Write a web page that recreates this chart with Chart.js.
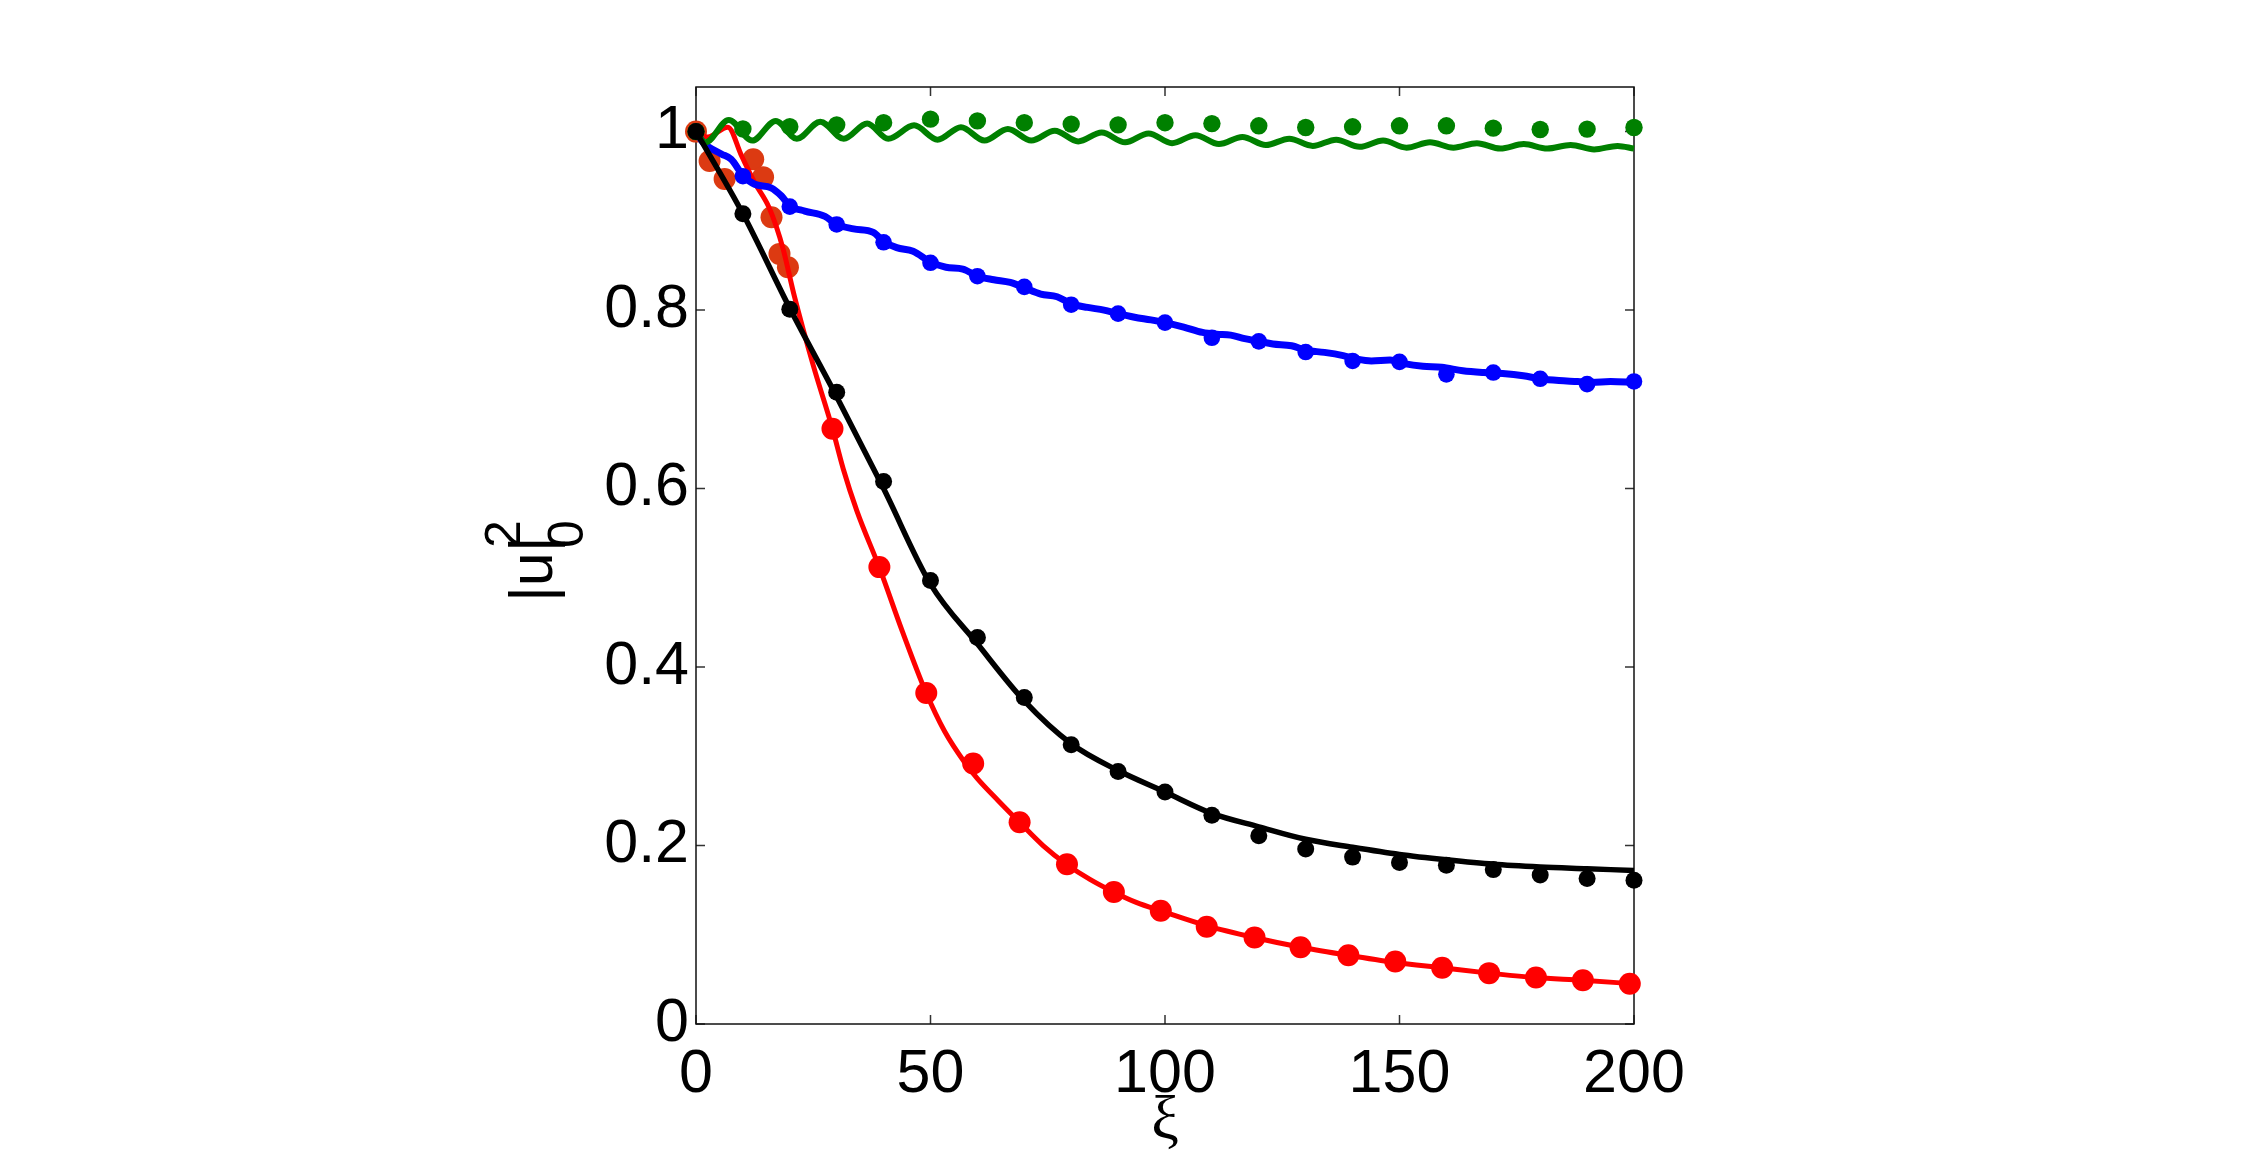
<!DOCTYPE html>
<html>
<head>
<meta charset="utf-8">
<script src="https://cdn.jsdelivr.net/npm/chart.js@4.4.1/dist/chart.umd.min.js"></script>
<style>
  html, body { margin: 0; padding: 0; background: #fff; }
  #wrap { width: 2250px; height: 1161px; position: relative; }
</style>
</head>
<body>
<div id="wrap"><canvas id="chart"></canvas></div>
<script>
// sample points of the dotted series (xi = 0..200, every 10)
const markX = [0, 10, 20, 30, 40, 50, 60, 70, 80, 90, 100, 110, 120, 130, 140, 150, 160, 170, 180, 190, 200];
const blackDots = [1, 0.908, 0.801, 0.708, 0.608, 0.497, 0.433, 0.366, 0.313, 0.283, 0.260, 0.234, 0.211, 0.196, 0.187, 0.181, 0.178, 0.173, 0.167, 0.163, 0.161];
const blueDots = [1, 0.950, 0.916, 0.896, 0.876, 0.853, 0.838, 0.826, 0.806, 0.796, 0.786, 0.769, 0.765, 0.753, 0.743, 0.742, 0.728, 0.730, 0.723, 0.717, 0.720];
const greenDots = [1, 1.003, 1.0055, 1.0076, 1.010, 1.014, 1.012, 1.010, 1.0084, 1.0076, 1.010, 1.009, 1.0065, 1.0046, 1.0054, 1.0065, 1.0065, 1.0039, 1.0024, 1.0028, 1.0046];

// red dots (offset a little from the others) and the early orange-red cluster
const redDotX = [29.1, 39.1, 49.1, 59.1, 69, 79.1, 89.1, 99.1, 108.9, 119.1, 128.9, 139.1, 149.1, 159.1, 169.1, 179.1, 189.1, 199.1];
const redDotY = [0.667, 0.512, 0.371, 0.292, 0.226, 0.179, 0.148, 0.127, 0.109, 0.097, 0.086, 0.077, 0.070, 0.063, 0.057, 0.052, 0.049, 0.045];
const clusterX = [0, 2.9, 6.1, 12.2, 14.3, 16.1, 17.8, 19.6];
const clusterY = [1, 0.967, 0.947, 0.969, 0.949, 0.904, 0.863, 0.848];

// solid curves
const blackLineX = [0, 10, 20, 30, 40, 50, 60, 70, 80, 90, 100, 110, 120, 130, 140, 150, 160, 170, 180, 190, 200];
const blackLineY = [1, 0.908, 0.802, 0.703, 0.600, 0.493, 0.426, 0.362, 0.314, 0.284, 0.260, 0.236, 0.221, 0.207, 0.198, 0.190, 0.184, 0.179, 0.176, 0.174, 0.172];

const redLineX = [0, 2.5, 6.8, 9.7, 12.5, 15.4, 17.1, 18.6, 21, 25, 29.1, 31.4, 34.3, 39.2, 44, 49, 53, 57.3, 60, 64.5, 69, 74, 79, 84, 89, 94, 99, 109, 119, 129, 139, 149, 159, 169, 179, 189, 200];
const redLineY = [1, 0.994, 1.005, 0.973, 0.943, 0.917, 0.894, 0.868, 0.815, 0.738, 0.667, 0.622, 0.575, 0.510, 0.440, 0.372, 0.328, 0.293, 0.275, 0.250, 0.226, 0.200, 0.179, 0.162, 0.148, 0.136, 0.127, 0.110, 0.097, 0.086, 0.077, 0.069, 0.063, 0.057, 0.052, 0.049, 0.045];

const blueLineX = [0, 1.5, 5.4, 7.5, 10, 12.5, 16, 18.2, 20, 23.2, 27.5, 30, 33.6, 37.8, 40, 42.8, 46.3, 50, 53.3, 56.9, 60, 63.5, 67, 70, 73.5, 77, 80, 83.5, 87, 90, 93.5, 97, 100, 104, 108, 111, 114, 117, 120, 123, 127, 130, 134, 138, 141, 144, 148, 151, 155, 159, 163.5, 168, 172, 176.4, 180, 184, 188, 191, 195, 200];
const blueLineY = [1, 0.988, 0.975, 0.969, 0.951, 0.941, 0.937, 0.928, 0.917, 0.911, 0.905, 0.896, 0.891, 0.887, 0.877, 0.870, 0.866, 0.854, 0.848, 0.846, 0.838, 0.834, 0.831, 0.825, 0.818, 0.815, 0.807, 0.803, 0.800, 0.796, 0.792, 0.789, 0.786, 0.781, 0.775, 0.773, 0.772, 0.768, 0.765, 0.762, 0.760, 0.755, 0.7526, 0.749, 0.745, 0.743, 0.744, 0.740, 0.737, 0.736, 0.732, 0.730, 0.729, 0.7265, 0.723, 0.721, 0.720, 0.719, 0.720, 0.719];

const greenLineX = [0, 2, 7, 12, 17, 21.5, 26.5, 31.5, 36.5, 41, 46.5, 51.5, 56.5, 61.5, 66.5, 71.5, 76.5, 81.5, 86.5, 91.5, 96.5, 101.5, 106.5, 111.5, 116.5, 121.5, 126.5, 131.5, 136.5, 141.5, 146.5, 151.5, 156.5, 161.5, 166.5, 171.5, 176.5, 181.5, 186.5, 191.5, 196.5, 200];
const greenLineY = [1, 0.988, 1.013, 0.990, 1.012, 0.992, 1.011, 0.992, 1.009, 0.992, 1.007, 0.991, 1.005, 0.990, 1.003, 0.990, 1.001, 0.989, 0.999, 0.988, 0.998, 0.987, 0.996, 0.986, 0.994, 0.985, 0.992, 0.984, 0.991, 0.983, 0.990, 0.982, 0.988, 0.982, 0.987, 0.981, 0.986, 0.981, 0.985, 0.980, 0.984, 0.981];

const xTicks = [0, 50, 100, 150, 200];
const yTicks = [0, 0.2, 0.4, 0.6, 0.8, 1];
const yTickLabels = ['0', '0.2', '0.4', '0.6', '0.8', '1'];

function pts(xs, ys) {
    return xs.map((x, i) => ({ x: x, y: ys[i] }));
}

function dots(xs, ys, color, r) {
    return {
        data: pts(xs, ys), showLine: false, pointRadius: r, pointHoverRadius: r,
        pointBackgroundColor: color, pointBorderWidth: 0, clip: false
    };
}

function curve(xs, ys, color, w) {
    return {
        data: pts(xs, ys), showLine: true, pointRadius: 0, borderColor: color,
        borderWidth: w, cubicInterpolationMode: 'monotone', clip: false
    };
}

const tickFont = { family: 'Liberation Sans', size: 61 };

// box, inward ticks and axis titles
const framePlugin = {
    id: 'frame',
    beforeDatasetsDraw(chart) {
        const { ctx, chartArea: a, scales } = chart;
        ctx.save();
        ctx.strokeStyle = '#333';
        ctx.lineWidth = 1.5;
        ctx.beginPath();
        xTicks.forEach(v => {
            const px = scales.x.getPixelForValue(v);
            ctx.moveTo(px, a.bottom); ctx.lineTo(px, a.bottom - 9);
            ctx.moveTo(px, a.top); ctx.lineTo(px, a.top + 9);
        });
        yTicks.forEach(v => {
            const py = scales.y.getPixelForValue(v);
            ctx.moveTo(a.left, py); ctx.lineTo(a.left + 9, py);
            ctx.moveTo(a.right, py); ctx.lineTo(a.right - 9, py);
        });
        ctx.stroke();
        ctx.strokeStyle = '#111';
        ctx.strokeRect(a.left, a.top, a.right - a.left, a.bottom - a.top);
        ctx.restore();
    },
    afterDraw(chart) {
        const { ctx, chartArea: a } = chart;
        ctx.save();
        ctx.fillStyle = '#000';
        // x title
        ctx.font = '62px "Liberation Serif"';
        ctx.textAlign = 'center';
        ctx.textBaseline = 'alphabetic';
        ctx.fillText('ξ', (a.left + a.right) / 2, 1138);
        // y title |u|_0^2, rotated
        ctx.translate(552, 602);
        ctx.rotate(-Math.PI / 2);
        ctx.textAlign = 'left';
        ctx.font = '61px "Liberation Sans"';
        ctx.fillText('|u|', 0, 0);
        ctx.font = '50px "Liberation Sans"';
        ctx.fillText('2', 54, -32);
        ctx.fillText('0', 54, 31);
        ctx.restore();
    }
};

new Chart(document.getElementById('chart'), {
    type: 'scatter',
    data: {
        datasets: [
            dots(markX, blackDots, '#000000', 8.5),
            curve(blackLineX, blackLineY, '#000000', 5.5),
            dots(markX, greenDots, '#008000', 8.7),
            curve(greenLineX, greenLineY, '#008000', 6),
            dots(markX, blueDots, '#0000ff', 8.3),
            curve(blueLineX, blueLineY, '#0000ff', 7),
            dots(redDotX, redDotY, '#ff0000', 11),
            curve(redLineX, redLineY, '#ff0000', 5),
            dots(clusterX, clusterY, '#dc3a12', 11)
        ]
    },
    options: {
        responsive: true,
        maintainAspectRatio: false,
        animation: false,
        devicePixelRatio: 1,
        layout: { padding: { left: 536, right: 616, top: 87, bottom: 27 } },
        plugins: { legend: { display: false }, tooltip: { enabled: false } },
        scales: {
            x: {
                type: 'linear', min: 0, max: 200,
                afterFit: s => { s.height = 110; },
                afterBuildTicks: s => { s.ticks = xTicks.map(v => ({ value: v })); },
                grid: { display: false, drawTicks: false },
                border: { display: false },
                ticks: { font: tickFont, color: '#000', padding: 15, maxRotation: 0, autoSkip: false }
            },
            y: {
                type: 'linear', min: 0, max: 1.05,
                afterFit: s => { s.width = 160; },
                afterBuildTicks: s => { s.ticks = yTicks.map(v => ({ value: v })); },
                grid: { display: false, drawTicks: false },
                border: { display: false },
                ticks: {
                    font: tickFont, color: '#000', padding: 7, autoSkip: false,
                    callback: (v, i) => yTickLabels[i]
                }
            }
        }
    },
    plugins: [framePlugin]
});
</script>
</body>
</html>
